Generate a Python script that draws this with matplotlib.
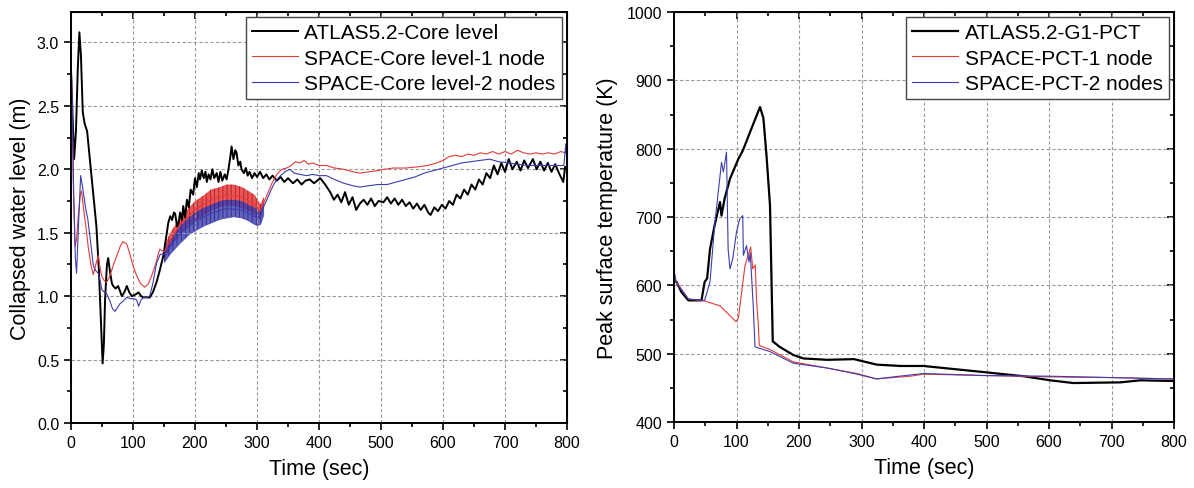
import numpy as np
import matplotlib.pyplot as plt
from matplotlib.ticker import MultipleLocator

plt.rcParams['font.family'] = ['Liberation Sans', 'DejaVu Sans']
plt.rcParams['hatch.linewidth'] = 0.6

# ---- left panel: collapsed water level ----
atlas_lvl_t = [0, 3, 5, 8, 11, 13.5, 16, 19, 22, 26, 31, 36, 41, 45, 49, 51, 53, 55, 58, 60,
               63, 66, 68, 72, 76, 79, 82, 86, 90, 94, 98, 103, 109, 113, 117, 122, 127, 132, 138, 143,
               149, 153, 157, 160, 163, 166, 168, 171, 173, 176, 179, 181, 184, 187, 190, 193, 197, 200, 203, 206,
               208, 211, 214, 217, 219, 222, 225, 228, 231, 235, 238, 241, 244, 248, 251, 254, 257, 259, 262, 265,
               267, 270, 273, 275, 279, 282, 285, 288, 292, 296, 300, 305, 310, 315, 320, 325, 332, 338, 344, 350,
               358, 365, 372, 378, 385, 392, 402, 410, 418, 424, 430, 436, 442, 448, 454, 460, 466, 472, 478, 484,
               490, 496, 504, 510, 516, 522, 528, 534, 540, 546, 552, 558, 564, 570, 576, 580, 586, 592, 598, 604,
               610, 616, 622, 628, 634, 640, 646, 652, 658, 664, 670, 676, 682, 688, 694, 700, 706, 712, 719, 725,
               731, 737, 745, 751, 757, 763, 769, 775, 781, 787, 794, 797, 800]
atlas_lvl = [2.78, 2.35, 2.08, 2.3, 2.8, 3.08, 2.9, 2.45, 2.36, 2.3, 2.05, 1.8, 1.55, 1.2, 0.72, 0.47, 0.62, 0.98, 1.25, 1.3,
             1.19, 1.1, 1.08, 1.06, 1.08, 1.04, 1.0, 1.03, 1.08, 1.03, 1.0, 1.01, 1.03, 1.0, 0.99, 0.99, 0.99, 1.03, 1.11, 1.2,
             1.32, 1.45, 1.58, 1.63, 1.6, 1.66, 1.65, 1.55, 1.56, 1.66, 1.6, 1.71, 1.62, 1.76, 1.7, 1.84, 1.8, 1.93, 1.86, 1.97,
             1.92, 1.99, 1.93, 1.98, 1.9, 1.96, 1.92, 2.0, 1.93, 1.97, 1.9, 1.98, 1.91, 1.96, 1.92, 2.0, 2.1, 2.18, 2.08, 2.15,
             2.13, 2.03, 2.06, 2.0, 1.97, 2.01, 1.95, 1.98, 1.93, 1.97, 1.94, 1.98, 1.93, 1.96, 1.92, 1.95, 1.91, 1.94, 1.9, 1.93,
             1.89, 1.92, 1.88, 1.91, 1.92, 1.89, 1.93, 1.88, 1.82, 1.76, 1.8, 1.74, 1.82, 1.72, 1.78, 1.68, 1.73, 1.76, 1.72, 1.77,
             1.71, 1.75, 1.74, 1.78, 1.73, 1.77, 1.72, 1.76, 1.71, 1.74, 1.69, 1.73, 1.68, 1.72, 1.66, 1.64, 1.7, 1.67, 1.72, 1.69,
             1.75, 1.72, 1.8, 1.77, 1.84, 1.8, 1.88, 1.84, 1.92, 1.88, 1.97, 1.93, 2.03, 1.96, 2.05, 1.98, 2.08, 2.0, 2.06, 1.99,
             2.07, 2.01, 2.08, 2.0, 2.06, 1.99, 2.05, 1.98, 2.04, 1.97, 1.9, 2.02, 2.0]

space1_lvl_t = [0, 2, 4, 6.5, 9, 12, 15, 17, 20, 24, 28, 32, 36, 40, 44, 47, 50, 54, 57.5, 62,
                68, 74, 80, 84, 90, 95, 100, 106, 112, 119, 125, 130, 137, 143, 150, 175, 200, 225, 250, 275,
                295, 305, 312, 318, 325, 332, 340, 348, 355, 362, 369, 376, 383, 390, 400, 412, 425, 440, 455, 466,
                480, 495, 505, 520, 540, 560, 575, 590, 600, 610, 620, 630, 640, 650, 660, 670, 680, 690, 700, 710,
                720, 730, 740, 750, 760, 770, 780, 790, 797, 799, 800]
space1_lvl = [2.95, 2.4, 1.8, 1.39, 1.45, 1.65, 1.8, 1.83, 1.7, 1.55, 1.38, 1.25, 1.17, 1.25, 1.32, 1.22, 1.15, 1.12, 1.11, 1.15,
              1.24, 1.32, 1.4, 1.43, 1.41, 1.33, 1.24, 1.16, 1.1, 1.07, 1.1, 1.16, 1.26, 1.37, 1.35, 1.56, 1.68, 1.76, 1.8, 1.78,
              1.73, 1.67, 1.75, 1.82, 1.9, 1.96, 2.0, 2.01, 2.03, 2.06, 2.05, 2.07, 2.04, 2.05, 2.03, 2.03, 2.01, 2.0, 1.98, 1.97,
              1.98, 1.99, 2.0, 2.01, 2.01, 2.02, 2.03, 2.05, 2.07, 2.1, 2.11, 2.1, 2.12, 2.11, 2.13, 2.12, 2.14, 2.12, 2.14, 2.12,
              2.15, 2.13, 2.12, 2.13, 2.12, 2.13, 2.12, 2.14, 2.13, 2.17, 2.12]

space2_lvl_t = [0, 2, 4, 7, 9, 12, 15.6, 18, 21, 24, 27, 31, 36, 40, 44, 47, 50, 54, 57.5, 62,
                67, 71, 75, 79, 84, 90, 96, 102, 106, 109, 113, 117, 122, 127, 132, 138, 144, 150, 175, 200,
                225, 250, 275, 295, 305, 310, 316, 322, 328, 332, 338, 345, 353, 360, 369, 380, 390, 400, 412, 425,
                440, 455, 466, 480, 495, 510, 525, 540, 555, 570, 585, 600, 615, 630, 645, 660, 675, 690, 705, 720,
                735, 750, 765, 780, 795, 798, 800]
space2_lvl = [2.9, 2.5, 1.9, 1.3, 1.18, 1.55, 1.95, 1.88, 1.78, 1.68, 1.61, 1.45, 1.24, 1.2, 1.18, 1.12, 1.05, 1.03, 1.02, 0.97,
              0.9, 0.88, 0.91, 0.94, 0.96, 0.99, 0.98, 0.98, 0.97, 0.92, 0.97, 0.99, 0.99, 1.0, 1.1, 1.26, 1.33, 1.33, 1.49, 1.59,
              1.65, 1.69, 1.68, 1.63, 1.62, 1.7, 1.76, 1.83, 1.89, 1.92, 1.95, 1.98, 2.0, 1.97, 1.96, 1.95, 1.96, 1.95, 1.95, 1.92,
              1.89, 1.87, 1.86, 1.87, 1.88, 1.88, 1.9, 1.92, 1.94, 1.97, 1.99, 2.01, 2.03, 2.05, 2.06, 2.07, 2.08, 2.06, 2.05, 2.04,
              2.03, 2.03, 2.03, 2.03, 2.03, 2.2, 2.05]

# oscillation envelopes of the SPACE level curves, 150-310 s
band_t = [150, 160, 175, 190, 200, 215, 225, 240, 250, 262, 275, 285, 295, 300, 305, 310]
space1_lo = [1.30, 1.40, 1.50, 1.57, 1.60, 1.65, 1.68, 1.71, 1.72, 1.72, 1.70, 1.68, 1.65, 1.63, 1.62, 1.70]
space1_hi = [1.40, 1.50, 1.62, 1.70, 1.75, 1.80, 1.84, 1.86, 1.88, 1.88, 1.86, 1.83, 1.80, 1.76, 1.72, 1.78]
space2_lo = [1.27, 1.34, 1.42, 1.49, 1.52, 1.56, 1.58, 1.61, 1.62, 1.63, 1.62, 1.60, 1.57, 1.56, 1.57, 1.64]
space2_hi = [1.37, 1.45, 1.55, 1.62, 1.66, 1.70, 1.72, 1.75, 1.76, 1.76, 1.75, 1.72, 1.70, 1.68, 1.68, 1.74]

# ---- right panel: peak cladding temperature ----
atlas_pct_t = [0, 4, 12, 23, 44, 49, 53, 57.6, 65, 73.6, 76, 81, 89.6, 103, 110, 121.6, 132, 137.6, 143, 148,
               153.6, 158, 169, 191, 207, 245, 288, 324, 362, 399, 442, 496, 559, 602, 639, 714, 746, 800]
atlas_pct = [607, 605, 590, 578, 578, 605, 610, 653, 688, 722, 702, 727, 756, 785, 797, 824, 848, 861, 845, 790,
             717, 518, 510, 498, 493, 491, 492, 484, 482, 482, 478, 473, 467, 461, 457, 458, 461, 460]

space1_pct_t = [0, 23, 49, 73.6, 99, 103, 113.6, 122.7, 126, 130, 132, 135, 136.5, 153.6, 191, 245, 293, 324, 350, 378,
                400, 496, 602, 700, 800]
space1_pct = [610, 580, 577, 570, 547, 552, 629, 656, 624, 630, 580, 541, 512, 506, 488, 479, 471, 463, 465, 467,
              470, 468, 466, 465, 463]

space2_pct_t = [0, 4, 23, 49, 57.6, 65, 76, 79, 84, 86.6, 89.6, 94, 100, 105, 110, 111, 116, 120, 122, 127,
                129.6, 153.6, 191, 245, 293, 324, 360, 400, 496, 602, 700, 800]
space2_pct = [622, 603, 580, 578, 605, 688, 780, 766, 795, 653, 624, 639, 678, 697, 702, 644, 658, 634, 648, 566,
              510, 503, 486, 479, 470, 463, 467, 471, 468, 467, 465, 463]

black = 'black'
red = '#e23a3a'
blue = '#3c3cae'

fig = plt.figure(figsize=(11.94, 4.89), dpi=100)
ax1 = fig.add_axes([71 / 1194, 65 / 489, 496 / 1194, 411 / 489])
ax2 = fig.add_axes([674 / 1194, 66 / 489, 500 / 1194, 410 / 489])

ax1.fill_between(band_t, space1_lo, space1_hi, color=red, lw=0.6, alpha=0.85)
ax1.fill_between(band_t, space1_lo, space1_hi, facecolor='none', edgecolor='#c01818', hatch='||||', lw=0)
ax1.fill_between(band_t, space2_lo, space2_hi, color=blue, lw=0.6, alpha=0.8)
ax1.fill_between(band_t, space2_lo, space2_hi, facecolor='none', edgecolor='#262690', hatch='||||', lw=0)
ax1.plot(atlas_lvl_t, atlas_lvl, color=black, lw=1.4, label='ATLAS5.2-Core level')
ax1.plot(space1_lvl_t, space1_lvl, color=red, lw=0.8, label='SPACE-Core level-1 node')
ax1.plot(space2_lvl_t, space2_lvl, color=blue, lw=0.8, label='SPACE-Core level-2 nodes')

ax2.plot(atlas_pct_t, atlas_pct, color=black, lw=1.6, label='ATLAS5.2-G1-PCT')
ax2.plot(space1_pct_t, space1_pct, color=red, lw=0.8, label='SPACE-PCT-1 node')
ax2.plot(space2_pct_t, space2_pct, color=blue, lw=0.8, label='SPACE-PCT-2 nodes')

ax1.set_ylim(0, 3.24)
ax1.yaxis.set_major_locator(MultipleLocator(0.5))
ax1.yaxis.set_minor_locator(MultipleLocator(0.25))
ax1.yaxis.set_major_formatter(plt.FormatStrFormatter('%.1f'))
ax1.set_ylabel('Collapsed water level (m)', fontsize=15.5, labelpad=4)

ax2.set_ylim(400, 1000)
ax2.yaxis.set_major_locator(MultipleLocator(100))
ax2.yaxis.set_minor_locator(MultipleLocator(50))
ax2.set_ylabel('Peak surface temperature (K)', fontsize=15.5, labelpad=6)

for ax in (ax1, ax2):
    ax.set_xlim(0, 800)
    ax.xaxis.set_major_locator(MultipleLocator(100))
    ax.xaxis.set_minor_locator(MultipleLocator(50))
    ax.set_xlabel('Time (sec)', fontsize=15.5, labelpad=6)
    ax.grid(True, which='major', color='#9a9a9a', ls=(0, (3, 2)), lw=0.8)
    ax.tick_params(which='both', direction='out', labelsize=11.5, width=1.2)
    ax.tick_params(which='major', length=5)
    ax.tick_params(which='minor', length=3)
    for s in ax.spines.values():
        s.set_linewidth(1.4)
    top = ax.secondary_xaxis('top')
    top.xaxis.set_major_locator(MultipleLocator(100))
    top.xaxis.set_minor_locator(MultipleLocator(50))
    top.tick_params(which='both', direction='in', labeltop=False, width=1.2)
    top.tick_params(which='major', length=5)
    top.tick_params(which='minor', length=3)
    right = ax.secondary_yaxis('right')
    right.yaxis.set_major_locator(ax.yaxis.get_major_locator())
    right.yaxis.set_minor_locator(ax.yaxis.get_minor_locator())
    right.tick_params(which='both', direction='in', labelright=False, width=1.2)
    right.tick_params(which='major', length=5)
    right.tick_params(which='minor', length=3)
    leg = ax.legend(loc='upper right', fontsize=15, fancybox=False, framealpha=1,
                    edgecolor='#444444', borderaxespad=0.25, handlelength=2.2,
                    handletextpad=0.3, labelspacing=0.3, borderpad=0.3)
    leg.get_frame().set_linewidth(1.0)

fig.savefig('out.png', dpi=100)
